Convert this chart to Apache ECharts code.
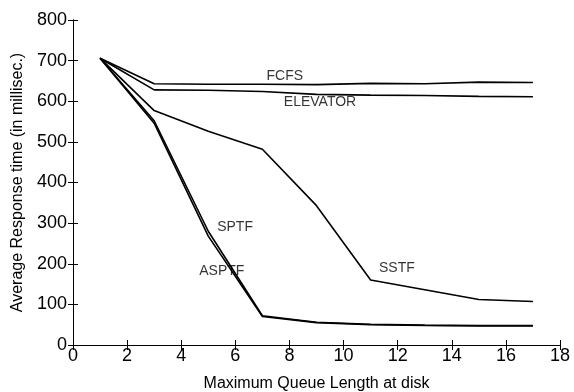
<!DOCTYPE html>
<html>
<head>
<meta charset="utf-8">
<script src="https://cdn.jsdelivr.net/npm/echarts@6/dist/echarts.min.js"></script>
<style>
  html, body { margin: 0; padding: 0; background: #fff; }
  #chart { width: 574px; height: 392px; }
</style>
</head>
<body>
<div id="chart"></div>
<script>
// Queue length sampled at disk
const queueLengths = [1, 3, 5, 7, 9, 11, 13, 15, 17];

// Average response time (ms) per scheduling policy
const fcfs     = [706, 643, 642, 642, 641, 644, 643, 647, 646];
const elevator = [706, 628, 627, 624, 617, 615, 614, 612, 611];
const sstf     = [706, 577, 526, 482, 343, 160, 136, 112, 107];
const sptf     = [706, 552, 280, 72, 56, 51, 49, 48, 48];
const asptf    = [706, 546, 268, 70, 55, 50, 48, 47, 47];

// Tick values for the axes
const xTicks = [0, 2, 4, 6, 8, 10, 12, 14, 16, 18];
const yTicks = [0, 100, 200, 300, 400, 500, 600, 700, 800];

// Curve annotations: [text, x, y] in data units
const annotations = [
  ['FCFS', 7.83, 662],
  ['ELEVATOR', 9.13, 597],
  ['SPTF', 5.99, 291],
  ['ASPTF', 5.5, 181],
  ['SSTF', 11.97, 188]
];

const font = 'Liberation Sans, Arial, Helvetica, sans-serif';
const pair = (ys) => queueLengths.map((x, i) => [x, ys[i]]);

const lineSeries = (name, ys) => ({
  name,
  type: 'line',
  data: pair(ys),
  showSymbol: false,
  symbol: 'none',
  silent: true,
  lineStyle: { color: '#000', width: 1.6 },
  animation: false
});

const series = [
  lineSeries('FCFS', fcfs),
  lineSeries('ELEVATOR', elevator),
  lineSeries('SSTF', sstf),
  lineSeries('SPTF', sptf),
  lineSeries('ASPTF', asptf),
  {
    type: 'scatter',
    data: annotations.map(a => ({ value: [a[1], a[2]], name: a[0] })),
    symbolSize: 0,
    silent: true,
    animation: false,
    label: {
      show: true,
      position: 'inside',
      formatter: p => p.name,
      color: '#000',
      fontFamily: font,
      fontSize: 14
    }
  }
];

const axisBase = {
  type: 'value',
  axisLine: { show: true, lineStyle: { color: '#000', width: 1 } },
  axisTick: { show: true, inside: true, length: 5, lineStyle: { color: '#000' } },
  splitLine: { show: false }
};

const chart = echarts.init(document.getElementById('chart'), null, { renderer: 'canvas' });
chart.setOption({
  backgroundColor: '#fff',
  animation: false,
  grid: {
    left: 73, right: 14, top: 20, bottom: 47,
    containLabel: false,
    outerBoundsMode: 'none'
  },
  xAxis: [
    Object.assign({}, axisBase, {
      min: xTicks[0], max: xTicks[xTicks.length - 1], interval: 2,
      position: 'bottom',
      name: 'Maximum Queue Length at disk',
      nameLocation: 'middle',
      nameGap: 31,
      nameTextStyle: { color: '#000', fontFamily: font, fontSize: 16 },
      axisLabel: { color: '#000', fontFamily: font, fontSize: 18, margin: 2 }
    }),
    Object.assign({}, axisBase, {
      min: xTicks[0], max: xTicks[xTicks.length - 1], interval: 2,
      position: 'top',
      axisLabel: { show: false }
    })
  ],
  yAxis: [
    Object.assign({}, axisBase, {
      min: yTicks[0], max: yTicks[yTicks.length - 1], interval: 100,
      position: 'left',
      name: 'Average Response time (in millisec.)',
      nameLocation: 'middle',
      nameGap: 46,
      nameTextStyle: { color: '#000', fontFamily: font, fontSize: 16 },
      axisLabel: { color: '#000', fontFamily: font, fontSize: 18, margin: 6 }
    }),
    Object.assign({}, axisBase, {
      min: yTicks[0], max: yTicks[yTicks.length - 1], interval: 100,
      position: 'right',
      axisLabel: { show: false }
    })
  ],
  series
});
</script>
</body>
</html>
